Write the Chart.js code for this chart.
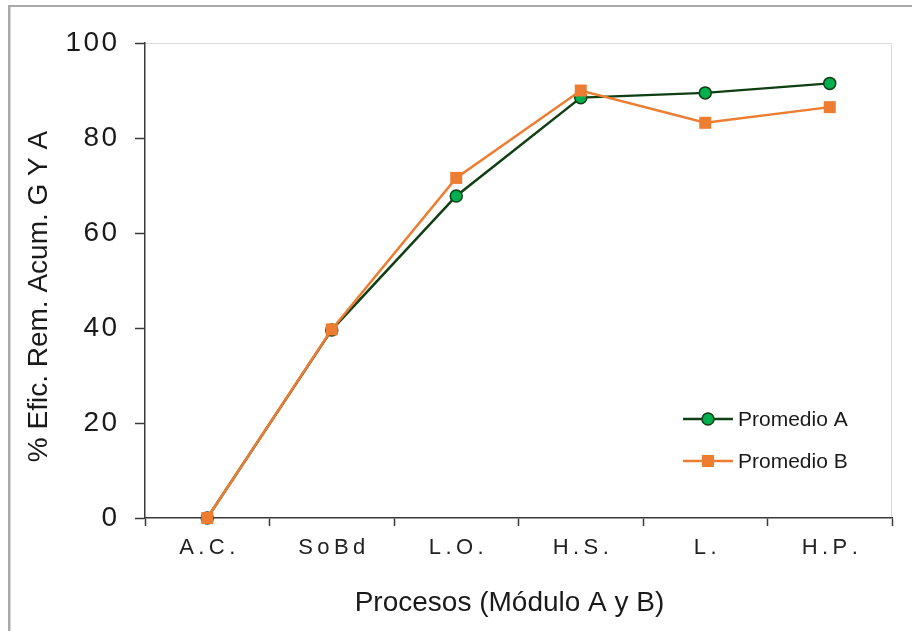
<!DOCTYPE html>
<html>
<head>
<meta charset="utf-8">
<script src="https://cdn.jsdelivr.net/npm/chart.js@4.4.1/dist/chart.umd.min.js"></script>
<style>
	html, body { margin: 0; background: #fff; }
	canvas { display: block; }
</style>
</head>
<body>
<canvas id="eficiencia" width="912" height="631"></canvas>
<script>
(() => {

	const procesos = ["A.C.", "SoBd", "L.O.", "H.S.", "L.", "H.P."];
	const promedioA = [0, 39.6, 67.8, 88.5, 89.5, 91.5];
	const promedioB = [0, 39.7, 71.6, 90.0, 83.2, 86.5];
	const ticksY = [0, 20, 40, 60, 80, 100];

	const fuente = "'Liberation Sans', Arial, sans-serif";
	const separa = (texto, esp) => String(texto).split('').join(esp);

	// marco exterior y borde claro del area de trazado
	const marco = {
		id: 'marco',
		beforeDraw: (chart) => {
			const { ctx, chartArea: a } = chart;
			ctx.save();
			ctx.fillStyle = '#fff';
			ctx.fillRect(0, 0, chart.width, chart.height);
			ctx.fillStyle = '#a9a9a9';
			ctx.fillRect(8, 5, chart.width - 8, 2);
			ctx.fillRect(8, 5, 2.5, chart.height - 5);
			ctx.strokeStyle = '#d9d9d9';
			ctx.lineWidth = 1;
			ctx.beginPath();
			ctx.moveTo(a.left, a.top + 0.5);
			ctx.lineTo(a.right - 0.5, a.top + 0.5);
			ctx.lineTo(a.right - 0.5, a.bottom);
			ctx.stroke();
			ctx.restore();
		}
	};

	// titulos de ejes y leyenda
	const textos = {
		id: 'textos',
		afterDraw: (chart) => {
			const { ctx, chartArea: a } = chart;
			ctx.save();
			ctx.fillStyle = '#1a1a1a';
			ctx.font = `28px ${fuente}`;
			ctx.textAlign = 'center';
			ctx.textBaseline = 'middle';
			ctx.fillText('Procesos (Módulo A y B)', (a.left + a.right) / 2 - 9, a.bottom + 85);

			ctx.translate(39, (a.top + a.bottom) / 2 + 16);
			ctx.rotate(-Math.PI / 2);
			ctx.fillText('% Efic. Rem. Acum. G Y A', 0, 0);
			ctx.restore();

			ctx.save();
			const x0 = a.right - 209;
			const orden = [chart.data.datasets[1], chart.data.datasets[0]];
			orden.forEach((ds, i) => {
				const y = a.bottom - 99 + i * 42;
				ctx.strokeStyle = ds.borderColor;
				ctx.lineWidth = ds.borderWidth;
				ctx.beginPath();
				ctx.moveTo(x0, y);
				ctx.lineTo(x0 + 50, y);
				ctx.stroke();
				ctx.fillStyle = ds.pointBackgroundColor;
				ctx.strokeStyle = ds.pointBorderColor;
				ctx.lineWidth = ds.pointBorderWidth;
				if (ds.pointStyle === 'circle') {
					ctx.beginPath();
					ctx.arc(x0 + 25, y, ds.pointRadius, 0, Math.PI * 2);
					ctx.fill();
					ctx.stroke();
				} else {
					const l = ds.pointRadius * Math.SQRT1_2;
					ctx.fillRect(x0 + 25 - l, y - l, 2 * l, 2 * l);
				}
				ctx.fillStyle = '#1a1a1a';
				ctx.font = `21px ${fuente}`;
				ctx.textAlign = 'left';
				ctx.textBaseline = 'middle';
				ctx.fillText(ds.label, x0 + 55, y + 1);
			});
			ctx.restore();
		}
	};

	new Chart("eficiencia", {
		type: "line",
		data: {
			labels: procesos,
			datasets: [{
				label: "Promedio B",
				data: promedioB,
				order: 0,
				borderColor: "#ed7d31",
				borderWidth: 2.5,
				pointStyle: 'rect',
				pointRadius: 8.5,
				pointBorderWidth: 0,
				pointBackgroundColor: "#ed7d31",
				pointBorderColor: "#ed7d31",
				clip: false
			}, {
				label: "Promedio A",
				data: promedioA,
				order: 1,
				borderColor: "#0f3f12",
				borderWidth: 2.5,
				pointStyle: 'circle',
				pointRadius: 6,
				pointBorderWidth: 1.5,
				pointBackgroundColor: "#00b050",
				pointBorderColor: "#0f3f12",
				clip: false
			}]
		},
		options: {
			responsive: false,
			animation: false,
			devicePixelRatio: 1,
			layout: { padding: { top: 43, right: 20, left: 0, bottom: 0 } },
			plugins: {
				legend: { display: false },
				tooltip: { enabled: false }
			},
			scales: {
				x: {
					offset: true,
					afterFit: (escala) => { escala.height = 113; },
					grid: { drawOnChartArea: false, offset: true, tickLength: 8, tickColor: '#3a3a3a', tickWidth: 1.5 },
					border: { color: '#3a3a3a', width: 1.5 },
					ticks: {
						padding: 9,
						color: '#222',
						font: { family: fuente, size: 22 },
						callback: function(valor) { return separa(this.getLabelForValue(valor), '\u2009'); }
					}
				},
				y: {
					min: 0,
					max: 100,
					afterFit: (escala) => { escala.width = 145; },
					afterBuildTicks: (escala) => { escala.ticks = ticksY.map(v => ({ value: v })); },
					grid: { drawOnChartArea: false, tickLength: 10, tickColor: '#3a3a3a', tickWidth: 1.5 },
					border: { color: '#3a3a3a', width: 1.5 },
					ticks: {
						padding: 18,
						color: '#1a1a1a',
						font: { family: fuente, size: 28 },
						callback: (valor) => separa(valor, '\u200a')
					}
				}
			}
		},
		plugins: [marco, textos]
	});
})();
</script>
</body>
</html>
